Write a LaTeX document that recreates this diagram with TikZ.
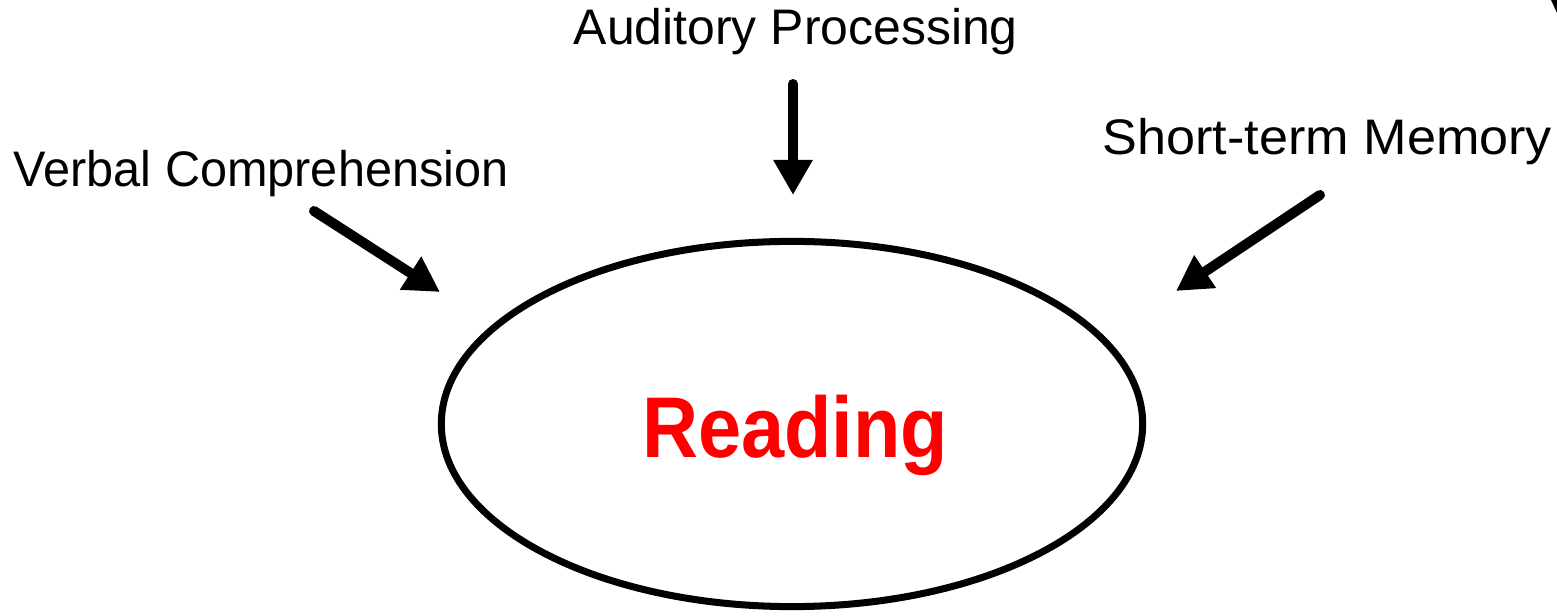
\documentclass[tikz,border=0pt]{standalone}
\usepackage{fontspec}
\setmainfont{Liberation Sans}
\usetikzlibrary{arrows.meta,shapes.geometric}
\definecolor{readred}{RGB}{255,0,0}
\begin{document}
\begin{tikzpicture}[x=0.01cm,y=-0.01cm,
  lbl/.style={inner sep=0pt, font=\fontsize{14.2pt}{16pt}\selectfont},
  feed/.style={line width=0.1cm, line cap=round, -{Triangle[length=0.35cm,width=0.37cm]}},
  oval/.style={ellipse, draw, line width=0.07cm, minimum width=7.01cm, minimum height=3.65cm, inner sep=0pt}]
\useasboundingbox (0,0) rectangle (1557,616);
\node[oval] (read) at (792,424) {};
\node[anchor=base, inner sep=0pt, text=readred, font=\fontsize{24.5pt}{28pt}\selectfont\bfseries] (rtxt) at (795,458) {\scalebox{0.9}[1]{Reading}};
\node[lbl, anchor=base west] (aud) at (573,45) {Auditory Processing};
\node[lbl, anchor=base west] (verb) at (13,187) {\scalebox{0.974}[1]{Verbal Comprehension}};
\node[lbl, anchor=base west] (stm) at (1102,155) {\scalebox{1.045}[1]{Short-term Memory}};
\coordinate (a1) at (793,84);
\coordinate (a2) at (793,195);
\coordinate (v1) at (314,211);
\coordinate (v2) at (440,292);
\coordinate (s1) at (1320,195);
\coordinate (s2) at (1176,291);
\draw[feed] (a1) -- (a2);
\draw[feed] (v1) -- (v2);
\draw[feed] (s1) -- (s2);
\fill (1551,0) -- (1557,0) -- (1557,13) -- cycle;
\end{tikzpicture}
\end{document}
